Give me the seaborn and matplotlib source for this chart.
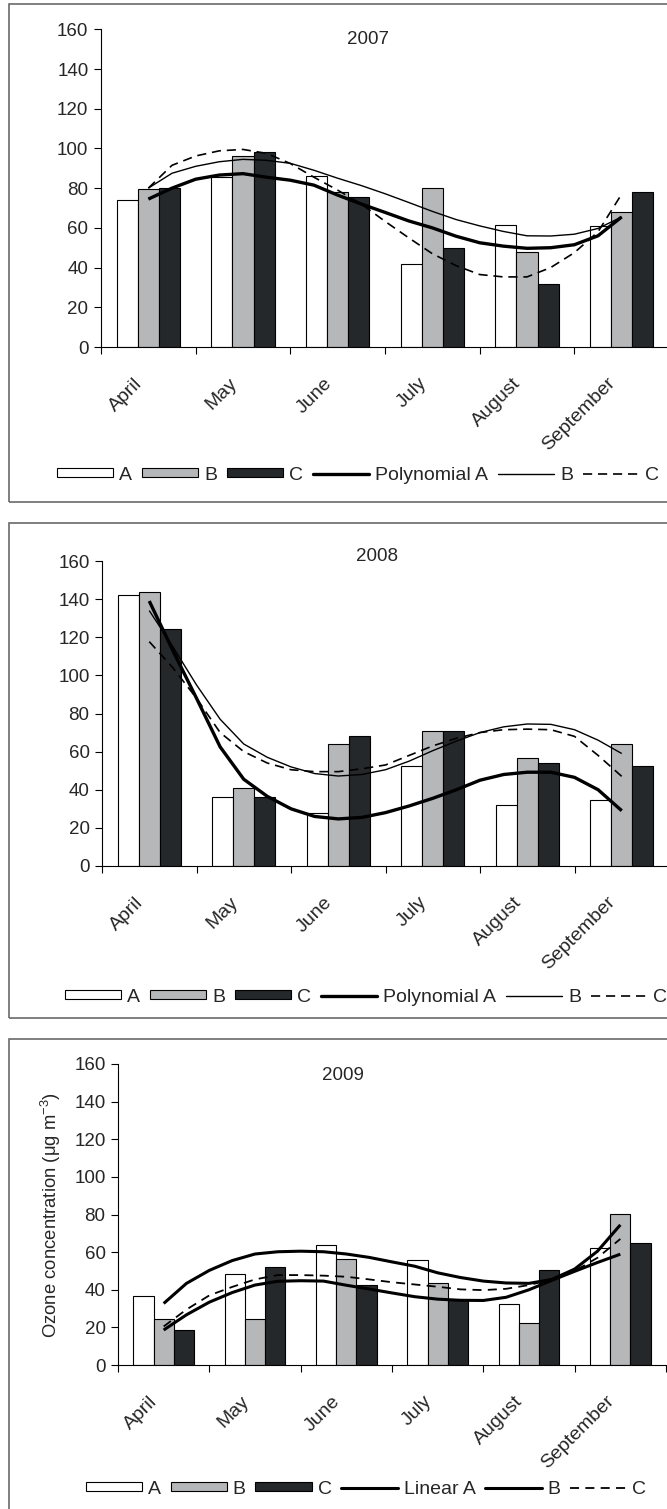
import numpy as np
import pandas as pd
import matplotlib
matplotlib.use("Agg")
import matplotlib.pyplot as plt
import seaborn as sns
from matplotlib.patches import Patch, Rectangle
from matplotlib.lines import Line2D
from matplotlib.transforms import ScaledTranslation

# ---------------- data ----------------
months = ["April", "May", "June", "July", "August", "September"]
sites = ["A", "B", "C"]

bars_2007_A = [74, 85.6, 86, 42, 61.5, 61]
bars_2007_B = [79.6, 96.2, 78.2, 80, 47.6, 68]
bars_2007_C = [80, 98.4, 75.7, 50, 31.8, 78]

bars_2008_A = [142, 36.1, 28, 52.6, 32, 34.5]
bars_2008_B = [143.8, 41, 64, 70.6, 56.9, 64]
bars_2008_C = [124.2, 36.1, 68, 70.6, 54.2, 52.6]

bars_2009_A = [36.5, 48.3, 64, 56, 32.4, 62]
bars_2009_B = [24.2, 24.2, 56.3, 43.8, 22.5, 80.4]
bars_2009_C = [18.5, 52.3, 42.3, 34.3, 50.4, 64.8]

# trend lines at quarter-month steps (month index)
trend_x = [0.0, 0.25, 0.5, 0.75, 1.0, 1.25, 1.5, 1.75, 2.0, 2.25, 2.5,
           2.75, 3.0, 3.25, 3.5, 3.75, 4.0, 4.25, 4.5, 4.75, 5.0]

trend_2007_A = [74.5, 80, 84.5, 86.6, 87.3, 85.5, 84, 81.5, 76.5, 72, 67.8,
                63.5, 60, 55.8, 52.5, 50.8, 49.7, 50, 51.5, 56, 65.5]
trend_2007_B = [80, 87.5, 91, 93.3, 94.5, 94, 92.5, 89, 85, 81.3, 77.2,
                72.8, 68.3, 64.2, 61, 58.2, 56, 55.9, 56.8, 59.7, 65.5]
trend_2007_C = [80, 91.5, 96.2, 98.8, 99.5, 97.5, 92.4, 85.5, 79, 72, 63.3,
                55, 47, 41, 36.5, 35.3, 35.3, 40, 47.5, 58, 77]

trend_2008_A = [139, 113, 88, 62.5, 45.5, 36.5, 30, 26, 24.7, 25.5, 28,
                31.5, 35.5, 40, 45, 48, 49.2, 49.2, 46.5, 40, 29]
trend_2008_B = [134, 115, 95, 77, 64, 57, 52, 48.5, 47.2, 48, 50.5,
                55, 60.5, 65.5, 70, 73, 74.5, 74.3, 71.5, 66, 59]
trend_2008_C = [117.7, 104, 88, 70, 60, 54, 50.5, 49.5, 49.5, 51, 53,
                58, 63, 67, 70, 71.5, 71.8, 71.5, 68, 58, 47]

trend_2009_A = [32.7, 43.4, 50.3, 55.5, 59, 60.2, 60.5, 60.2, 59, 57.2, 54.8,
                52.5, 49, 46.5, 44.6, 43.6, 43.4, 45.5, 51, 60.5, 74.5]
trend_2009_B = [18.6, 26.7, 33.4, 38.5, 42.5, 44.5, 44.8, 44.6, 42.4, 40.4, 38.3,
                36.3, 35, 34.4, 34.3, 36, 40, 45, 49.8, 54.5, 58.9]
trend_2009_C = [20.5, 29.5, 37, 41.5, 45.5, 47.8, 47.8, 47.5, 46.9, 45.5, 44,
                42.8, 41.6, 40.2, 39.8, 40.5, 42.5, 45.5, 50, 57, 67]

years = ["2007", "2008", "2009"]
legend_words = ["Polynomial A", "Polynomial A", "Linear A"]
y_ticks = [0, 20, 40, 60, 80, 100, 120, 140, 160]

# ---------------- style ----------------
sns.set_theme(style="white")
plt.rcParams["font.family"] = ["Liberation Sans", "DejaVu Sans"]
plt.rcParams["mathtext.fontset"] = "custom"
plt.rcParams["mathtext.rm"] = "Liberation Sans"
plt.rcParams["mathtext.it"] = "Liberation Sans:italic"
plt.rcParams["axes.unicode_minus"] = True

FS_TICK = 13.5
FS_MONTH = 14
FS_LEG = 14
FS_TITLE = 13.5
FS_YLAB = 13.3
bar_colors = ["#ffffff", "#b5b7b9", "#24282a"]

W, H = 667, 1509
fig = plt.figure(figsize=(W / 100, H / 100), dpi=100)
fig.patch.set_facecolor("white")

layout = [
    dict(box=(8.5, 4, 502), axes=(101, 669, 29.3, 347), title=(368, 39), legend=(358, 475)),
    dict(box=(8.5, 523, 1018), axes=(102, 669, 561, 866), title=(377, 557), legend=(366, 997)),
    dict(box=(8.5, 1039, 1520), axes=(118, 666, 1064, 1365), title=(343, 1075), legend=(366, 1489)),
]

panel_bars = [
    (bars_2007_A, bars_2007_B, bars_2007_C),
    (bars_2008_A, bars_2008_B, bars_2008_C),
    (bars_2009_A, bars_2009_B, bars_2009_C),
]
panel_trends = [
    (trend_2007_A, trend_2007_B, trend_2007_C),
    (trend_2008_A, trend_2008_B, trend_2008_C),
    (trend_2009_A, trend_2009_B, trend_2009_C),
]
line_styles = [
    [(2.4, "-"), (1.0, "-"), (1.2, (0, (5.5, 3.5)))],
    [(2.4, "-"), (1.0, "-"), (1.2, (0, (5.5, 3.5)))],
    [(2.2, "-"), (2.2, "-"), (1.3, (0, (5.0, 3.5)))],
]

for p in range(3):
    lay = layout[p]
    left, right, top, bottom = lay["axes"]
    # panel frame
    bx, btop, bbot = lay["box"]
    fig.add_artist(Rectangle((bx / W, 1 - bbot / H), (720 - bx) / W, (bbot - btop) / H,
                             transform=fig.transFigure, fill=False,
                             edgecolor="#6a6a6a", linewidth=1.2, zorder=0))

    ax = fig.add_axes([left / W, 1 - bottom / H, (right - left) / W, (bottom - top) / H])
    ax.patch.set_alpha(0)

    rows = []
    for s, vals in zip(sites, panel_bars[p]):
        for i, v in enumerate(vals):
            rows.append({"month": i, "site": s, "value": v})
    df = pd.DataFrame(rows)

    sns.barplot(data=df, x="month", y="value", hue="site", hue_order=sites,
                palette=bar_colors, native_scale=True, width=0.667, dodge=True,
                edgecolor="black", linewidth=0.8, saturation=1, errorbar=None,
                legend=False, ax=ax, zorder=2)

    for vals, (lw, ls) in zip(panel_trends[p], line_styles[p]):
        sns.lineplot(x=trend_x, y=vals, color="black", linewidth=lw, linestyle=ls,
                     sort=False, estimator=None, legend=False, ax=ax, zorder=3,
                     solid_joinstyle="round", solid_capstyle="butt")

    ax.set_xlim(-0.5, 5.5)
    ax.set_ylim(0, 160)
    ax.set_yticks(y_ticks)
    ax.set_yticklabels([str(t) for t in y_ticks], fontsize=FS_TICK)
    ax.set_xticks(range(len(months)))
    ax.set_xticklabels(months, fontsize=FS_MONTH, rotation=45, ha="right", va="top",
                       rotation_mode="anchor")
    ax.set_xticks(np.arange(-0.5, len(months), 1.0), minor=True)
    ax.tick_params(axis="x", which="major", length=0, pad=20)
    ax.tick_params(axis="x", which="minor", length=5, width=0.8, direction="out",
                   color="black", bottom=True)
    ax.tick_params(axis="y", which="major", length=5, width=0.8, direction="out",
                   color="black", pad=4, left=True)
    for lab in ax.get_xticklabels():
        lab.set_transform(lab.get_transform() + ScaledTranslation(-10.5 / 72, 0, fig.dpi_scale_trans))
    for side in ["top", "right"]:
        ax.spines[side].set_visible(False)
    for side in ["left", "bottom"]:
        ax.spines[side].set_color("black")
        ax.spines[side].set_linewidth(0.8)
    ax.set_xlabel("")
    ax.set_ylabel("")
    ax.grid(False)

    tx, ty = lay["title"]
    fig.text(tx / W, 1 - ty / H, years[p], ha="center", va="center", fontsize=FS_TITLE)

    handles = [Patch(facecolor=c, edgecolor="black", linewidth=0.8) for c in bar_colors]
    handles += [Line2D([], [], color="black", linewidth=lw, linestyle=ls)
                for lw, ls in line_styles[p]]
    labels = sites + [legend_words[p], "B", "C"]
    lx, ly = lay["legend"]
    fig.legend(handles, labels, loc="center", bbox_to_anchor=(lx / W, 1 - ly / H),
               ncol=6, frameon=False, fontsize=FS_LEG, handlelength=2.9, handleheight=0.35,
               handletextpad=0.3, columnspacing=0.5, borderpad=0, borderaxespad=0)

fig.text(51 / W, 1 - 1215 / H, "Ozone concentration (μg m$^{-3}$)", rotation=90,
         ha="center", va="center", fontsize=FS_YLAB)

fig.savefig("out.png", dpi=100, facecolor="white")
